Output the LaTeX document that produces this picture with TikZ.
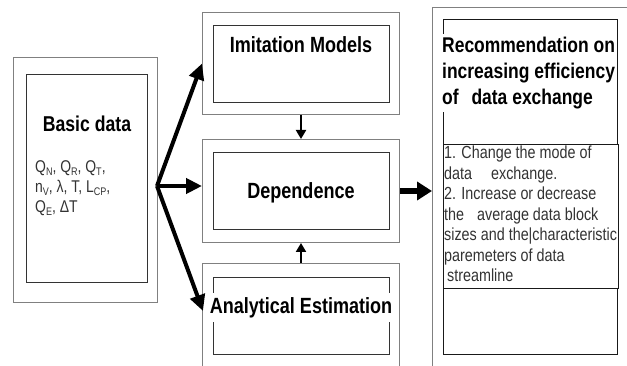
\documentclass[tikz,border=0pt]{standalone}
\usepackage{fontspec}
\setmainfont{Liberation Sans}[FakeStretch=0.82]
\usetikzlibrary{arrows.meta}
\newcommand\mysub[1]{\raisebox{-3pt}{\fontsize{11}{11}\selectfont #1}}
\begin{document}
\begin{tikzpicture}[x=1pt,y=-1pt,
  outerbox/.style={draw=black!50, line width=1pt, rectangle, inner sep=0pt, anchor=north west},
  innerbox/.style={draw=black!80, line width=1pt, rectangle, inner sep=0pt, anchor=north west},
  panelbox/.style={draw=black!90, line width=0.8pt, rectangle, inner sep=0pt, anchor=north west},
  boldlabel/.style={font=\fontsize{22}{26}\selectfont\bfseries, text=black, inner sep=1pt},
  plaintext/.style={text=black!80, inner sep=0pt, align=left},
  fanarrow/.style={-{Triangle[length=16pt,width=15pt]}, line width=4pt},
  bigarrow/.style={-{Triangle[length=15pt,width=18pt]}, line width=6pt},
  smallarrow/.style={-{Triangle[length=9pt,width=10pt]}, line width=2pt}]
\useasboundingbox (0,0) rectangle (627,366);
\clip (0,0) rectangle (627,366);
\fill[white] (0,0) rectangle (627,366);

% left: basic data
\node[outerbox, minimum width=144pt, minimum height=245pt] (bdo) at (13,57) {};
\node[innerbox, minimum width=121pt, minimum height=208pt] (bdi) at (26,74) {};
\node[font=\fontsize{21.5}{26}\selectfont\bfseries, anchor=base, inner sep=0pt] (bdt) at (87,132) {Basic data};
\node[plaintext, font=\fontsize{17}{20}\selectfont, anchor=north west] (bdl) at (35,160.5)
  {Q\mysub{N}, Q\mysub{R}, Q\mysub{T},\\
   n\mysub{V}, λ, T, L\mysub{CP},\\
   Q\mysub{E}, ΔT};

% middle column
\node[outerbox, minimum width=197pt, minimum height=102pt] (imo) at (202,12) {};
\node[innerbox, minimum width=176pt, minimum height=77pt] (imi) at (213,25) {};
\node[boldlabel, anchor=base] (imt) at (301,53) {Imitation Models};

\node[outerbox, minimum width=197pt, minimum height=103pt] (depo) at (202,139) {};
\node[innerbox, minimum width=176pt, minimum height=77pt] (depi) at (213,152) {};
\node[boldlabel, anchor=base] (dept) at (301,199) {Dependence};

\node[outerbox, minimum width=197pt, minimum height=130pt] (ano) at (202,263) {};
\node[innerbox, minimum width=176pt, minimum height=77pt] (ani) at (213,277) {};
\node[boldlabel, anchor=base, fill=white, inner xsep=1pt, inner ysep=4pt] (ant) at (301,313) {Analytical Estimation};

% right panel
\node[outerbox, minimum width=220pt, minimum height=380pt] (rto) at (432,7) {};
\node[panelbox, minimum width=174pt, minimum height=125pt] (rt1) at (443,19) {};
\node[panelbox, minimum width=175pt, minimum height=144pt] (rt2) at (443,144) {};
\node[panelbox, minimum width=174pt, minimum height=66pt] (rt3) at (443,288) {};
\node[font=\fontsize{21.3}{26}\selectfont\bfseries, align=left, anchor=north west, fill=white, inner xsep=0pt, inner ysep=3pt] (rtt) at (442,34)
  {Recommendation on\\increasing efficiency\\of\hspace{8pt} data exchange};
\node[plaintext, font=\fontsize{17.5}{20.5}\selectfont, anchor=north west] (rtl) at (444,146)
  {1. Change the mode of\\
   data\hspace{19pt}exchange.\\
   2. Increase or decrease\\
   the\hspace{13pt}average data block\\
   sizes and the|characteristic\\
   paremeters of data\\
   \hspace{3pt}streamline};

% connectors
\coordinate (fan) at (157,186);
\coordinate (tipc) at (203,311);
\draw[fanarrow] (fan) -- (imo.west);
\draw[fanarrow] (fan) -- (fan -| depo.west);
\draw[fanarrow] (fan) -- (tipc);
\draw[smallarrow] (imo.south) -- (depo.north);
\draw[smallarrow] (ano.north) -- (depo.south);
\draw[bigarrow] (depo.east) -- (depo.east -| rto.west);
\end{tikzpicture}
\end{document}
